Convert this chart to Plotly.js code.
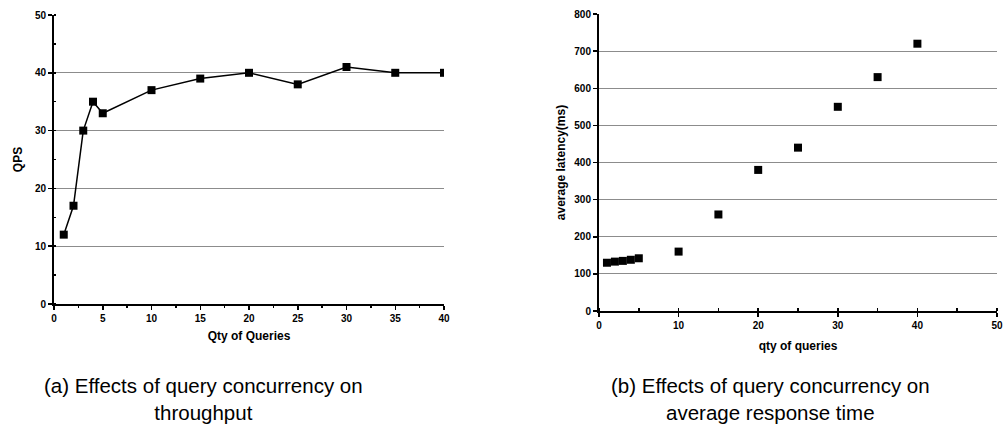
<!DOCTYPE html>
<html>
<head>
<meta charset="utf-8">
<script src="https://cdn.plot.ly/plotly-3.0.1.min.js"></script>
<style>
html,body{margin:0;padding:0;background:#fff;}
#chart{width:1003px;height:447px;}
</style>
</head>
<body>
<div id="chart"></div>
<script>
// Panel (a): throughput
const qtyA = [1, 2, 3, 4, 5, 10, 15, 20, 25, 30, 35, 40];
const qps  = [12, 17, 30, 35, 33, 37, 39, 40, 38, 41, 40, 40];
// Panel (b): average latency
const qtyB    = [1, 2, 3, 4, 5, 10, 15, 20, 25, 30, 35, 40];
const latency = [130, 133, 135, 138, 142, 160, 260, 380, 440, 550, 630, 720];

const captionA = "(a) Effects of query concurrency on<br>throughput";
const captionB = "(b) Effects of query concurrency on<br>average response time";

const W = 1003, H = 447;
const px = v => v / W;
const py = v => 1 - v / H;

const tickFont = {family: "Liberation Sans, Arial, sans-serif", size: 10, color: "#000", weight: "bold"};
const titleFont = {family: "Liberation Sans, Arial, sans-serif", size: 12, color: "#000", weight: "bold"};

const traces = [
  {
    x: qtyA, y: qps, xaxis: "x", yaxis: "y",
    type: "scatter", mode: "lines+markers",
    line: {color: "#000", width: 1.5},
    marker: {symbol: "square", size: 8, color: "#000"},
    hoverinfo: "skip"
  },
  {
    x: qtyB, y: latency, xaxis: "x2", yaxis: "y2",
    type: "scatter", mode: "markers",
    marker: {symbol: "square", size: 8, color: "#000"},
    hoverinfo: "skip"
  }
];

const axisCommon = {
  showline: true, linecolor: "#000", linewidth: 2,
  ticks: "outside", ticklen: 4, tickwidth: 1.5, tickcolor: "#000",
  tickfont: tickFont, zeroline: false, fixedrange: true
};

const layout = {
  width: W, height: H,
  margin: {l: 0, r: 0, t: 0, b: 0},
  paper_bgcolor: "#fff", plot_bgcolor: "#fff",
  showlegend: false,
  xaxis: Object.assign({}, axisCommon, {
    domain: [px(54), px(444)], anchor: "y",
    range: [0, 40], tickvals: [0, 5, 10, 15, 20, 25, 30, 35, 40],
    showgrid: false,
    minor: {ticks: "outside", ticklen: 2, tickcolor: "#000", dtick: 2.5, showgrid: false},
    title: {text: "Qty of Queries", font: titleFont, standoff: 9}
  }),
  yaxis: Object.assign({}, axisCommon, {
    domain: [py(304), py(15)], anchor: "x",
    range: [0, 50], tickvals: [0, 10, 20, 30, 40, 50],
    showgrid: true, gridcolor: "#8c8c8c", gridwidth: 1.2,
    minor: {ticks: "inside", ticklen: 2, tickcolor: "#000", dtick: 5, showgrid: false},
    title: {text: "QPS", font: titleFont, standoff: 10}
  }),
  xaxis2: Object.assign({}, axisCommon, {
    domain: [px(599), px(997)], anchor: "y2",
    range: [0, 50], tickvals: [0, 10, 20, 30, 40, 50],
    showgrid: false,
    minor: {ticks: "inside", ticklen: 3, tickwidth: 1.5, tickcolor: "#000", dtick: 5, showgrid: false},
    title: {text: "qty of queries", font: titleFont, standoff: 12}
  }),
  yaxis2: Object.assign({}, axisCommon, {
    domain: [py(311), py(14)], anchor: "x2",
    range: [0, 800], tickvals: [0, 100, 200, 300, 400, 500, 600, 700, 800],
    showgrid: true, gridcolor: "#8c8c8c", gridwidth: 1.2,
    title: {text: "average latency(ms)", font: titleFont, standoff: 6}
  }),
  annotations: [
    {text: captionA, xref: "paper", yref: "paper", x: px(203), y: py(399),
     xanchor: "center", yanchor: "middle", showarrow: false, align: "center",
     font: {family: "Liberation Sans, Arial, sans-serif", size: 20.5, color: "#000"}},
    {text: captionB, xref: "paper", yref: "paper", x: px(770), y: py(399),
     xanchor: "center", yanchor: "middle", showarrow: false, align: "center",
     font: {family: "Liberation Sans, Arial, sans-serif", size: 20.5, color: "#000"}}
  ]
};

Plotly.newPlot("chart", traces, layout, {displayModeBar: false, staticPlot: true});
</script>
</body>
</html>
